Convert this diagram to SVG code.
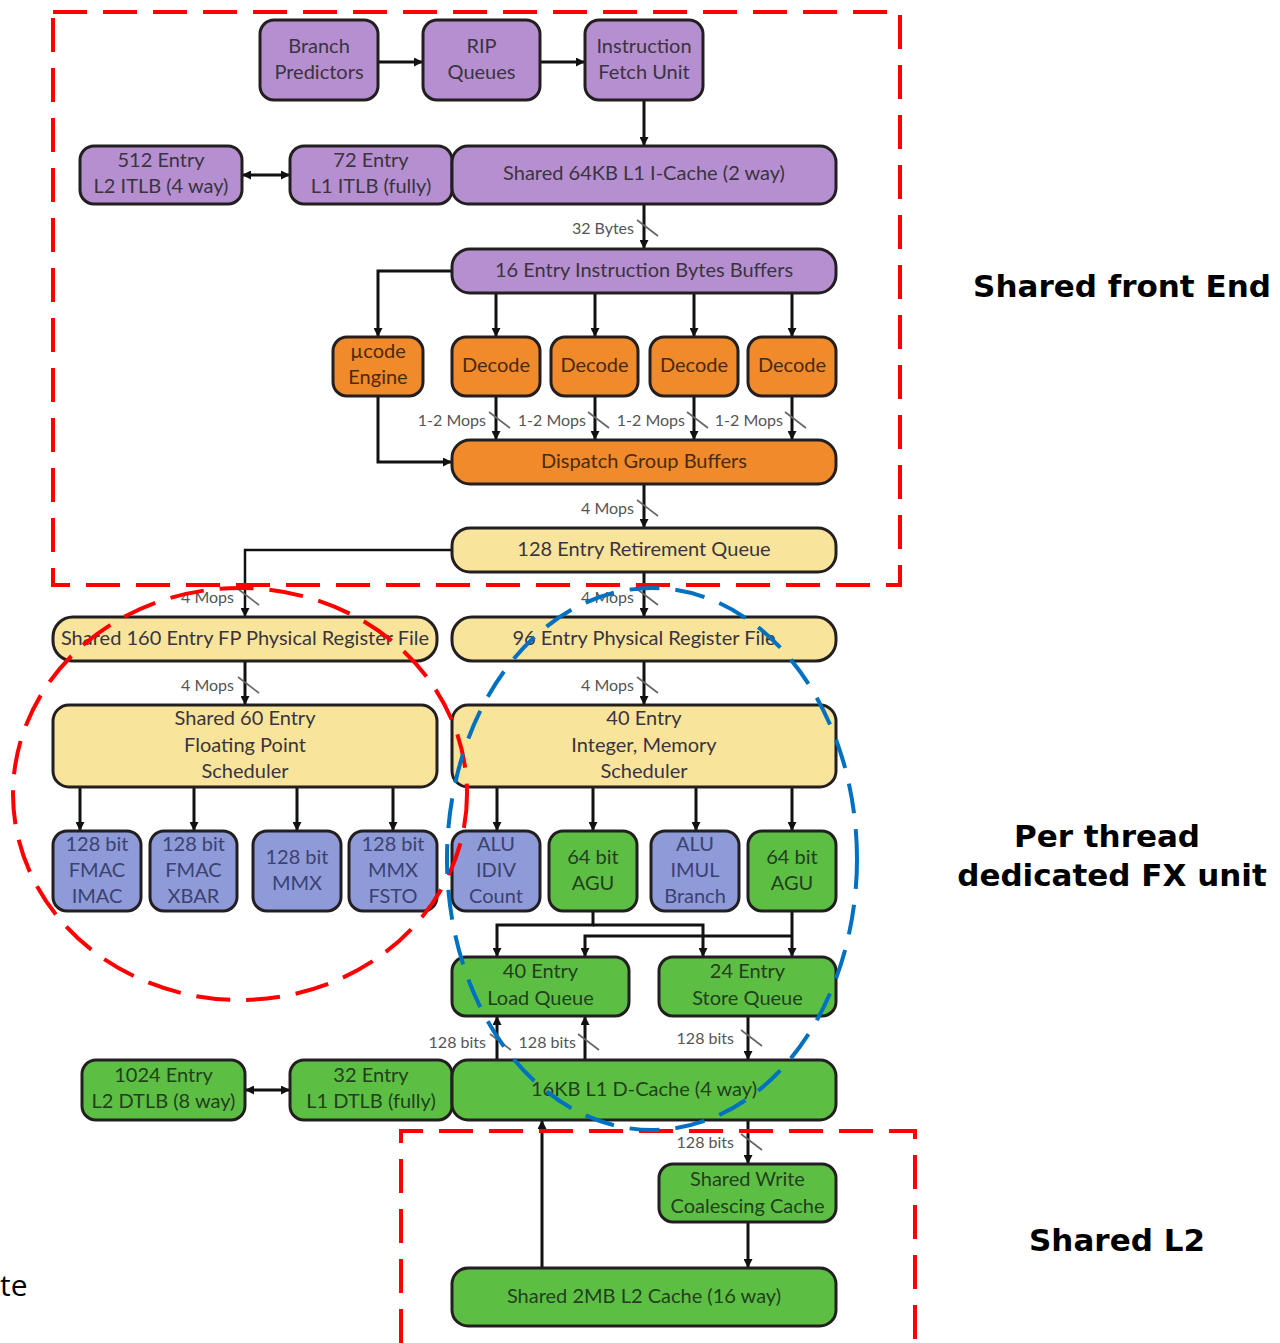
<svg xmlns="http://www.w3.org/2000/svg" width="1280" height="1343" viewBox="0 0 1280 1343">
<style>
.b{stroke:#231f20;stroke-width:3}
.pu{fill:#b58fcf}
.or{fill:#f08a2a}
.ye{fill:#f8e59b}
.bl{fill:#8f9ad9}
.gr{fill:#5cbf44}
.t{font-family:Lato,"Open Sans",sans-serif;font-size:20px;fill:#3a3440;text-anchor:middle}
.to{fill:#4a2a0c}
.tg{fill:#23401c}
.tb{fill:#3c4270}
.c{fill:none;stroke:#111;stroke-width:3}
.ca{fill:none;stroke:#111;stroke-width:3;marker-end:url(#ah)}
.cd{fill:none;stroke:#111;stroke-width:3;marker-end:url(#ah);marker-start:url(#ah)}
.tk{stroke:#666;stroke-width:1.6}
.l{font-family:Lato,"Open Sans",sans-serif;font-size:16px;fill:#555;text-anchor:end}
.rd{fill:none;stroke:#ff0000;stroke-width:4;stroke-dasharray:34 16}
.bd{fill:none;stroke:#0070c0;stroke-width:4;stroke-dasharray:30 16}
.h{font-family:"DejaVu Sans",Verdana,sans-serif;font-weight:bold;font-size:31px;fill:#000;text-anchor:middle}
</style>
<defs>
<marker id="ah" viewBox="0 0 10 10" refX="10" refY="5" markerWidth="9" markerHeight="9" markerUnits="userSpaceOnUse" orient="auto-start-reverse">
<path d="M0,0 L10,5 L0,10 z" fill="#111"/>
</marker>
</defs>
<rect width="1280" height="1343" fill="#fff"/>

<g id="connectors">
<path class="ca" d="M378,62 H423"/>
<path class="ca" d="M540,62 H585"/>
<path class="ca" d="M644,100 V146"/>
<path class="cd" d="M242,175 H290"/>
<path class="ca" d="M644,204 V249"/>
<path class="ca" d="M452,271 H378 V337"/>
<path class="ca" d="M496,293 V337"/>
<path class="ca" d="M595,293 V337"/>
<path class="ca" d="M694,293 V337"/>
<path class="ca" d="M792,293 V337"/>
<path class="ca" d="M496,396 V440"/>
<path class="ca" d="M595,396 V440"/>
<path class="ca" d="M694,396 V440"/>
<path class="ca" d="M792,396 V440"/>
<path class="ca" d="M378,396 V462 H452"/>
<path class="ca" d="M644,484 V528"/>
<path class="ca" style="stroke-width:2.5" d="M452,550 H245 V617"/>
<path class="ca" d="M644,572 V617"/>
<path class="ca" d="M245,661 V705"/>
<path class="ca" d="M644,661 V705"/>
<path class="ca" d="M80,787 V831"/>
<path class="ca" d="M194,787 V831"/>
<path class="ca" d="M297,787 V831"/>
<path class="ca" d="M393,787 V831"/>
<path class="ca" d="M497,787 V831"/>
<path class="ca" d="M593,787 V831"/>
<path class="ca" d="M696,787 V831"/>
<path class="ca" d="M792,787 V831"/>
<path class="ca" d="M593,911 V925 H497 V957"/>
<path class="ca" d="M593,925 H703 V957"/>
<path class="ca" d="M792,911 V957"/>
<path class="ca" d="M792,936 H585 V957"/>
<path class="ca" d="M497,1060 V1016"/>
<path class="ca" d="M585,1060 V1016"/>
<path class="ca" d="M748,1016 V1060"/>
<path class="cd" d="M245,1090 H290"/>
<path class="ca" d="M748,1120 V1164"/>
<path class="ca" d="M748,1222 V1268"/>
<path class="ca" d="M542,1268 V1120"/>
<g>
<path class="tk" d="M637,220 L658,236"/><text class="l" x="634" y="234">32 Bytes</text>
<path class="tk" d="M489,412 L510,428"/><text class="l" x="486" y="426">1-2 Mops</text>
<path class="tk" d="M588,412 L609,428"/><text class="l" x="586" y="426">1-2 Mops</text>
<path class="tk" d="M687,412 L708,428"/><text class="l" x="685" y="426">1-2 Mops</text>
<path class="tk" d="M785,412 L806,428"/><text class="l" x="783" y="426">1-2 Mops</text>
<path class="tk" d="M637,500 L658,516"/><text class="l" x="634" y="514">4 Mops</text>
<path class="tk" d="M238,589 L259,605"/><text class="l" x="234" y="603">4 Mops</text>
<path class="tk" d="M637,589 L658,605"/><text class="l" x="634" y="603">4 Mops</text>
<path class="tk" d="M238,677 L259,693"/><text class="l" x="234" y="691">4 Mops</text>
<path class="tk" d="M637,677 L658,693"/><text class="l" x="634" y="691">4 Mops</text>
<path class="tk" d="M490,1034 L511,1050"/><text class="l" x="486" y="1048">128 bits</text>
<path class="tk" d="M578,1034 L599,1050"/><text class="l" x="576" y="1048">128 bits</text>
<path class="tk" d="M741,1030 L762,1046"/><text class="l" x="734" y="1044">128 bits</text>
<path class="tk" d="M741,1134 L762,1150"/><text class="l" x="734" y="1148">128 bits</text>
</g>
</g>

<g id="branch-predictors"><rect class="b pu" x="260" y="20" width="118" height="80" rx="14"/><text class="t" x="319" y="53">Branch</text><text class="t" x="319" y="79">Predictors</text></g>
<g id="rip-queues"><rect class="b pu" x="423" y="20" width="117" height="80" rx="14"/><text class="t" x="481.5" y="53">RIP</text><text class="t" x="481.5" y="79">Queues</text></g>
<g id="fetch-unit"><rect class="b pu" x="585" y="20" width="118" height="80" rx="14"/><text class="t" x="644" y="53">Instruction</text><text class="t" x="644" y="79">Fetch Unit</text></g>
<g id="l2-itlb"><rect class="b pu" x="80" y="146" width="162" height="58" rx="14"/><text class="t" x="161" y="167">512 Entry</text><text class="t" x="161" y="193">L2 ITLB (4 way)</text></g>
<g id="l1-itlb"><rect class="b pu" x="290" y="146" width="162" height="58" rx="14"/><text class="t" x="371" y="167">72 Entry</text><text class="t" x="371" y="193">L1 ITLB (fully)</text></g>
<g id="l1-icache"><rect class="b pu" x="452" y="146" width="384" height="58" rx="16"/><text class="t" x="644" y="180">Shared 64KB L1 I-Cache (2 way)</text></g>
<g id="ibb"><rect class="b pu" x="452" y="249" width="384" height="44" rx="18"/><text class="t" x="644" y="277">16 Entry Instruction Bytes Buffers</text></g>
<g id="ucode"><rect class="b or" x="333" y="337" width="90" height="59" rx="14"/><text class="t to" x="378" y="358">µcode</text><text class="t to" x="378" y="384">Engine</text></g>
<g id="decode1"><rect class="b or" x="452" y="337" width="88" height="59" rx="14"/><text class="t to" x="496" y="372">Decode</text></g>
<g id="decode2"><rect class="b or" x="551" y="337" width="87" height="59" rx="14"/><text class="t to" x="594.5" y="372">Decode</text></g>
<g id="decode3"><rect class="b or" x="650" y="337" width="88" height="59" rx="14"/><text class="t to" x="694" y="372">Decode</text></g>
<g id="decode4"><rect class="b or" x="748" y="337" width="88" height="59" rx="14"/><text class="t to" x="792" y="372">Decode</text></g>
<g id="dispatch"><rect class="b or" x="452" y="440" width="384" height="44" rx="18"/><text class="t to" x="644" y="468">Dispatch Group Buffers</text></g>
<g id="retirement"><rect class="b ye" x="452" y="528" width="384" height="44" rx="18"/><text class="t" x="644" y="556">128 Entry Retirement Queue</text></g>
<g id="fp-prf"><rect class="b ye" x="53" y="617" width="384" height="44" rx="20"/><text class="t" x="245" y="645">Shared 160 Entry FP Physical Register File</text></g>
<g id="int-prf"><rect class="b ye" x="452" y="617" width="384" height="44" rx="20"/><text class="t" x="644" y="645">96 Entry Physical Register File</text></g>
<g id="fp-sched"><rect class="b ye" x="53" y="705" width="384" height="82" rx="16"/><text class="t" x="245" y="725">Shared 60 Entry</text><text class="t" x="245" y="752">Floating Point</text><text class="t" x="245" y="778">Scheduler</text></g>
<g id="int-sched"><rect class="b ye" x="452" y="705" width="384" height="82" rx="16"/><text class="t" x="644" y="725">40 Entry</text><text class="t" x="644" y="752">Integer, Memory</text><text class="t" x="644" y="778">Scheduler</text></g>
<g id="fmac-imac"><rect class="b bl" x="53" y="831" width="88" height="80" rx="14"/><text class="t tb" x="97" y="851">128 bit</text><text class="t tb" x="97" y="877">FMAC</text><text class="t tb" x="97" y="903">IMAC</text></g>
<g id="fmac-xbar"><rect class="b bl" x="150" y="831" width="87" height="80" rx="14"/><text class="t tb" x="193.5" y="851">128 bit</text><text class="t tb" x="193.5" y="877">FMAC</text><text class="t tb" x="193.5" y="903">XBAR</text></g>
<g id="mmx"><rect class="b bl" x="253" y="831" width="88" height="80" rx="14"/><text class="t tb" x="297" y="864">128 bit</text><text class="t tb" x="297" y="890">MMX</text></g>
<g id="mmx-fsto"><rect class="b bl" x="349" y="831" width="88" height="80" rx="14"/><text class="t tb" x="393" y="851">128 bit</text><text class="t tb" x="393" y="877">MMX</text><text class="t tb" x="393" y="903">FSTO</text></g>
<g id="alu-idiv"><rect class="b bl" x="452" y="831" width="88" height="80" rx="14"/><text class="t tb" x="496" y="851">ALU</text><text class="t tb" x="496" y="877">IDIV</text><text class="t tb" x="496" y="903">Count</text></g>
<g id="agu1"><rect class="b gr" x="549" y="831" width="88" height="80" rx="14"/><text class="t tg" x="593" y="864">64 bit</text><text class="t tg" x="593" y="890">AGU</text></g>
<g id="alu-imul"><rect class="b bl" x="651" y="831" width="88" height="80" rx="14"/><text class="t tb" x="695" y="851">ALU</text><text class="t tb" x="695" y="877">IMUL</text><text class="t tb" x="695" y="903">Branch</text></g>
<g id="agu2"><rect class="b gr" x="748" y="831" width="88" height="80" rx="14"/><text class="t tg" x="792" y="864">64 bit</text><text class="t tg" x="792" y="890">AGU</text></g>
<g id="load-queue"><rect class="b gr" x="452" y="957" width="177" height="59" rx="14"/><text class="t tg" x="540.5" y="978">40 Entry</text><text class="t tg" x="540.5" y="1005">Load Queue</text></g>
<g id="store-queue"><rect class="b gr" x="659" y="957" width="177" height="59" rx="14"/><text class="t tg" x="747.5" y="978">24 Entry</text><text class="t tg" x="747.5" y="1005">Store Queue</text></g>
<g id="l2-dtlb"><rect class="b gr" x="82" y="1060" width="163" height="60" rx="14"/><text class="t tg" x="163.5" y="1082">1024 Entry</text><text class="t tg" x="163.5" y="1108">L2 DTLB (8 way)</text></g>
<g id="l1-dtlb"><rect class="b gr" x="290" y="1060" width="162" height="60" rx="14"/><text class="t tg" x="371" y="1082">32 Entry</text><text class="t tg" x="371" y="1108">L1 DTLB (fully)</text></g>
<g id="l1-dcache"><rect class="b gr" x="452" y="1060" width="384" height="60" rx="16"/><text class="t tg" x="644" y="1096">16KB L1 D-Cache (4 way)</text></g>
<g id="wcc"><rect class="b gr" x="659" y="1164" width="177" height="58" rx="14"/><text class="t tg" x="747.5" y="1186">Shared Write</text><text class="t tg" x="747.5" y="1213">Coalescing Cache</text></g>
<g id="l2-cache"><rect class="b gr" x="452" y="1268" width="384" height="58" rx="16"/><text class="t tg" x="644" y="1303">Shared 2MB L2 Cache (16 way)</text></g>

<g id="regions">
<rect class="rd" x="53" y="12" width="847" height="573"/>
<path class="rd" d="M401,1343 V1131 H915 V1343"/>
<ellipse class="rd" cx="240" cy="794" rx="227" ry="206"/>
<ellipse class="bd" cx="652" cy="859" rx="205" ry="271"/>
</g>

<g id="labels">
<text class="h" x="1122" y="297">Shared front End</text>
<text class="h" x="1107" y="847">Per thread</text>
<text class="h" x="1112" y="886">dedicated FX unit</text>
<text class="h" x="1117" y="1251">Shared L2</text>
<text x="0" y="1296" font-family="'Open Sans',sans-serif" font-size="30" fill="#000">te</text>
</g>
</svg>
